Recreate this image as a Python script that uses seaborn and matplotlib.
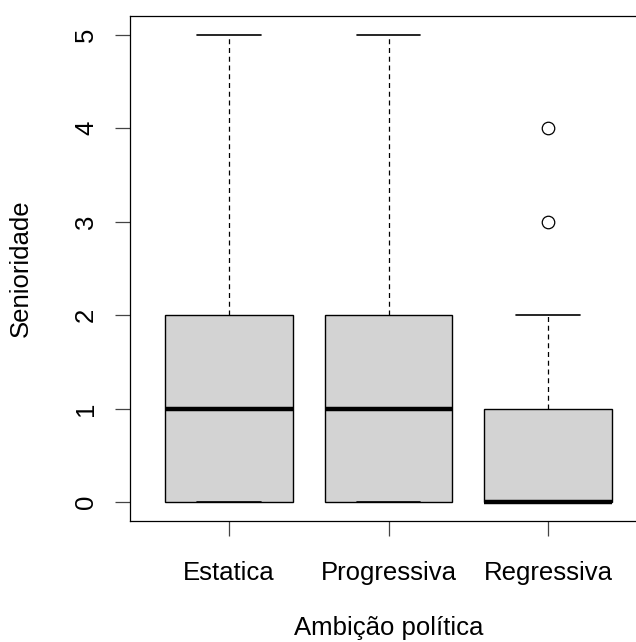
import pandas as pd
import matplotlib
matplotlib.use("Agg")
import matplotlib.pyplot as plt
import seaborn as sns

estatica = [0, 0, 0, 0, 1, 1, 1, 2, 2, 2, 3, 4, 5]
progressiva = [0, 0, 0, 0, 0, 1, 1, 1, 1, 2, 2, 2, 2, 3, 4, 5]
regressiva = [0, 0, 0, 0, 0, 0, 0, 1, 1, 1, 2, 3, 4]
groups = ["Estatica", "Progressiva", "Regressiva"]
y_ticks = [0, 1, 2, 3, 4, 5]

df = pd.DataFrame({
    "ambicao": ["Estatica"] * len(estatica) + ["Progressiva"] * len(progressiva)
               + ["Regressiva"] * len(regressiva),
    "senioridade": estatica + progressiva + regressiva,
})

sns.set_style("white")
plt.rcParams["font.family"] = ["Liberation Sans", "DejaVu Sans"]
plt.rcParams["text.color"] = "black"
plt.rcParams["axes.labelcolor"] = "black"
plt.rcParams["xtick.color"] = "black"
plt.rcParams["ytick.color"] = "black"

fig = plt.figure(figsize=(6.36, 6.42), dpi=100)
ax = fig.add_axes([130 / 636, 1 - 521 / 642, (647 - 130) / 636, (521 - 16) / 642])

sns.boxplot(
    data=df, x="ambicao", y="senioridade", order=groups, ax=ax,
    color="#D3D3D3", saturation=1, width=0.8, linecolor="black", linewidth=1,
    whis=1.5,
    medianprops=dict(color="black", linewidth=3.2, solid_capstyle="butt"),
    whiskerprops=dict(linestyle=(0, (4, 3)), linewidth=0.9),
    capprops=dict(linewidth=1.2),
    flierprops=dict(marker="o", markerfacecolor="none", markeredgecolor="black",
                    markersize=9, markeredgewidth=0.9),
)

ax.set_xlim(0.38 - 1, 3.62 - 1)
ax.set_ylim(-0.2, 5.2)
ax.set_yticks(y_ticks)
ax.set_yticklabels([str(t) for t in y_ticks], rotation=90, va="center")

for s in ax.spines.values():
    s.set_visible(True)
    s.set_color("black")
    s.set_linewidth(0.9)

ax.tick_params(axis="both", direction="out", length=11, width=0.9,
               labelsize=18.5, labelcolor="black", bottom=True, left=True)
ax.tick_params(axis="x", colors="#444444", labelcolor="black", pad=18)
ax.tick_params(axis="y", colors="#444444", labelcolor="black", pad=12)

ax.set_xlabel("Ambição política", fontsize=18.5, labelpad=22, color="black")
ax.set_ylabel("Senioridade", fontsize=18.5, labelpad=30, color="black")

fig.savefig("out.png", dpi=100)
